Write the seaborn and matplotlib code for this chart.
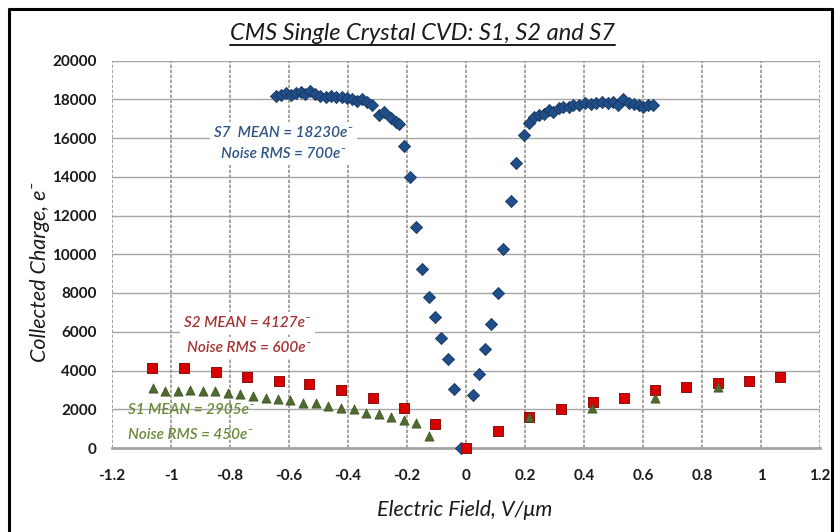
import matplotlib
matplotlib.use("Agg")
import matplotlib.pyplot as plt
from matplotlib.lines import Line2D
import pandas as pd
import seaborn as sns

# ---- data -------------------------------------------------------------
s7_field = [-0.644, -0.627, -0.610, -0.593, -0.576, -0.559, -0.545, -0.529, -0.511,
            -0.494, -0.475, -0.458, -0.441, -0.420, -0.403, -0.386, -0.371, -0.353,
            -0.337, -0.319, -0.294, -0.277, -0.254, -0.237, -0.226, -0.211, -0.191,
            -0.168, -0.148, -0.124, -0.105, -0.085, -0.062, -0.040, -0.017,
            0.025, 0.043, 0.066, 0.085, 0.107, 0.125, 0.153, 0.171, 0.196, 0.215,
            0.232, 0.249, 0.265, 0.282, 0.296, 0.314, 0.330, 0.348, 0.364, 0.384,
            0.404, 0.424, 0.441, 0.461, 0.480, 0.497, 0.514, 0.533, 0.554, 0.571,
            0.588, 0.601, 0.616, 0.633]
s7_charge = [18190, 18220, 18310, 18220, 18310, 18390, 18270, 18430, 18270,
             18170, 18100, 18170, 18100, 18100, 18050, 18000, 17925, 18000,
             17870, 17700, 17190, 17360, 17020, 16840, 16720, 15590, 14000,
             11420, 9220, 7810, 6780, 5690, 4580, 3030, 0,
             2740, 3820, 5090, 6400, 8020, 10270, 12750, 14730, 16150, 16790,
             17100, 17190, 17240, 17445, 17360, 17530, 17580, 17620, 17700, 17700,
             17820, 17755, 17820, 17860, 17820, 17860, 17700, 18000, 17820, 17755,
             17700, 17580, 17700, 17700]

s2_field = [-1.064, -0.955, -0.847, -0.743, -0.635, -0.531, -0.424, -0.316, -0.211,
            -0.104, 0.0, 0.107, 0.215, 0.322, 0.429, 0.534, 0.641, 0.746, 0.855,
            0.960, 1.065]
s2_charge = [4110, 4110, 3910, 3680, 3470, 3290, 2990, 2600, 2080,
             1240, 0, 890, 1620, 2030, 2390, 2600, 2990, 3170, 3370,
             3470, 3650]

s1_field = [-1.062, -1.020, -0.977, -0.936, -0.893, -0.850, -0.808, -0.765, -0.723,
            -0.678, -0.636, -0.595, -0.553, -0.508, -0.467, -0.424, -0.381, -0.339,
            -0.296, -0.254, -0.211, -0.169, -0.124, 0.215, 0.426, 0.639, 0.853]
s1_charge = [3080, 2940, 2940, 2990, 2940, 2940, 2820, 2770, 2680,
             2600, 2510, 2480, 2340, 2310, 2170, 2080, 2000, 1820,
             1750, 1580, 1445, 1305, 620, 1580, 2080, 2560, 3130]

x_ticks = [-1.2, -1.0, -0.8, -0.6, -0.4, -0.2, 0.0, 0.2, 0.4, 0.6, 0.8, 1.0, 1.2]
x_tick_labels = ["-1.2", "-1", "-0.8", "-0.6", "-0.4", "-0.2", "0", "0.2", "0.4",
                 "0.6", "0.8", "1", "1.2"]
y_ticks = [0, 2000, 4000, 6000, 8000, 10000, 12000, 14000, 16000, 18000, 20000]
y_tick_labels = [str(v) for v in y_ticks]

title_text = "CMS Single Crystal CVD: S1, S2 and S7"
x_label = "Electric Field, V/\u03bcm"
y_label = "Collected Charge, e\u207b"

# ---- styling ------------------------------------------------------------
sns.set_theme(style="white")
plt.rcParams["font.family"] = ["Lato", "DejaVu Sans"]

S7_COLOR = "#1F4E89"
S2_COLOR = "#D90000"
S1_COLOR = "#4E6B2E"

fig = plt.figure(figsize=(8.35, 5.32), dpi=100)
fig.patch.set_facecolor("white")
ax = fig.add_axes([112 / 835, 1 - 448 / 532, 708 / 835, 387.5 / 532])

df7 = pd.DataFrame({"field": s7_field, "charge": s7_charge})
df2 = pd.DataFrame({"field": s2_field, "charge": s2_charge})
df1 = pd.DataFrame({"field": s1_field, "charge": s1_charge})

sns.scatterplot(data=df7, x="field", y="charge", ax=ax, marker="D", s=38,
                color=S7_COLOR, edgecolor="#17375E", linewidth=0.6, zorder=3,
                clip_on=False)
sns.scatterplot(data=df2, x="field", y="charge", ax=ax, marker="s", s=58,
                color=S2_COLOR, edgecolor="#8A1010", linewidth=0.7, zorder=4,
                clip_on=False)
sns.scatterplot(data=df1, x="field", y="charge", ax=ax, marker="^", s=44,
                color=S1_COLOR, edgecolor="#3C5222", linewidth=0.5, zorder=5,
                clip_on=False)

ax.set_xlim(-1.2, 1.2)
ax.set_ylim(0, 20000)
ax.set_xticks(x_ticks)
ax.set_xticklabels(x_tick_labels)
ax.set_yticks(y_ticks)
ax.set_yticklabels(y_tick_labels)
ax.tick_params(axis="x", length=0, pad=15, labelsize=11, labelcolor="#1a1a1a")
ax.tick_params(axis="y", length=0, pad=11, labelsize=11, labelcolor="#1a1a1a")
for lab in ax.get_xticklabels() + ax.get_yticklabels():
    lab.set_fontweight("bold")

ax.set_xlabel("")
ax.set_ylabel("")

# grid: solid horizontal lines, speckled vertical lines
ax.grid(False)
for v in y_ticks:
    ax.axhline(v, color="#A6A6A6", lw=1.0, zorder=1)
for v in x_ticks:
    ax.axvline(v, color="#97978C", lw=1.2, ls=(0, (2, 1)), zorder=1)
for side in ["top", "right", "left"]:
    ax.spines[side].set_visible(False)
ax.spines["bottom"].set_color("#A6A6A6")
ax.spines["bottom"].set_linewidth(2.0)

# axis titles
fig.text(465 / 835, 1 - 510 / 532, x_label, ha="center", va="center",
         fontsize=15.5, style="italic", color="#1a1a1a")
fig.text(40 / 835, 1 - 272 / 532, y_label, ha="center", va="center",
         rotation=90, fontsize=15.5, style="italic", color="#1a1a1a")

# underlined title
title = fig.text(422 / 835, 1 - 33 / 532, title_text, ha="center", va="center",
                 fontsize=17, style="italic", color="#1a1a1a")
fig.canvas.draw()
bb = title.get_window_extent(fig.canvas.get_renderer())
x0, x1 = bb.x0 / fig.bbox.width, bb.x1 / fig.bbox.width
uy = (bb.y0 - 1.0) / fig.bbox.height
fig.add_artist(Line2D([x0, x1], [uy, uy], color="#1a1a1a", lw=1.4,
                      transform=fig.transFigure))

# annotations
white_box = dict(facecolor="white", edgecolor="none", pad=3)
ax.text(-0.619, 16250, "S7  MEAN = 18230e\u207b", ha="center", va="center",
        fontsize=11, style="italic", fontweight="semibold", color="#2E5486",
        bbox=white_box, zorder=2)
ax.text(-0.619, 15170, "Noise RMS = 700e\u207b", ha="center", va="center",
        fontsize=11, style="italic", fontweight="semibold", color="#2E5486",
        bbox=white_box, zorder=2)
ax.text(-0.741, 6450, "S2 MEAN = 4127e\u207b", ha="center", va="center",
        fontsize=11, style="italic", fontweight="semibold", color="#A83232",
        bbox=white_box, zorder=2)
ax.text(-0.736, 5160, "Noise RMS = 600e\u207b", ha="center", va="center",
        fontsize=11, style="italic", fontweight="semibold", color="#A83232",
        bbox=white_box, zorder=2)
ax.text(-1.2 + (128 - 112) / 295, 1950, "S1 MEAN = 2905e\u207b", ha="left",
        va="center", fontsize=11, style="italic", fontweight="semibold",
        color="#6A8A3A", zorder=2)
ax.text(-1.2 + (128 - 112) / 295, 670, "Noise RMS = 450e\u207b", ha="left",
        va="center", fontsize=11, style="italic", fontweight="semibold",
        color="#6A8A3A", zorder=2)

# outer frame
frame_kw = dict(color="black", lw=2.2, transform=fig.transFigure)
fig.add_artist(Line2D([9 / 835, 9 / 835], [0, 1 - 9 / 532], **frame_kw))
fig.add_artist(Line2D([9 / 835, 832 / 835], [1 - 9 / 532, 1 - 9 / 532], **frame_kw))
fig.add_artist(Line2D([832 / 835, 832 / 835], [0, 1 - 9 / 532], **frame_kw))

fig.savefig("out.png", dpi=100)
